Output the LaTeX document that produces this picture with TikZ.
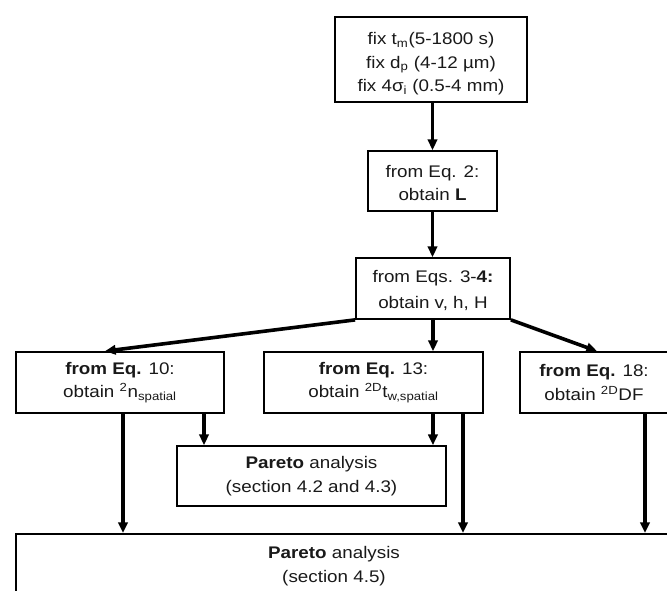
\documentclass[tikz,border=0pt]{standalone}
\usepackage{fontspec}
\setmainfont{Liberation Sans}[FakeStretch=1.12]
\usetikzlibrary{arrows.meta,calc}
\newcommand\boxfont{\fontsize{12.6}{17.6}\selectfont}
\begin{document}
\begin{tikzpicture}[x=0.75pt,y=-0.75pt,
  box/.style={draw, line width=1.3pt, inner sep=0pt, align=center, font=\boxfont, text=black!90},
  lbl/.style={inner sep=0pt, align=center, font=\boxfont, text=black!90},
  arr/.style={line width=2.7pt, -{Triangle[length=8pt,width=7pt]}},
]
\useasboundingbox (0,0) rectangle (667,590);

\node[box, minimum width=144pt, minimum height=63.75pt] (top) at (431,59.5)
  {\rule{0pt}{15.5pt}fix t\textsubscript{m}(5-1800 s)\\fix d\textsubscript{p} (4-12 µm)\\fix 4σ\textsubscript{i} (0.5-4 mm)};
\node[box, minimum width=96.75pt, minimum height=45pt] (b2) at (432.5,181)
  {\rule{0pt}{12pt}from Eq. 2:\\obtain \textbf{L}};
\node[box, minimum width=115.5pt, minimum height=45.75pt] (b3) at (433,288.5)
  {\rule{0pt}{12pt}from Eqs. 3-\textbf{4:}\\[1.5pt]obtain v, h, H};
\node[box, minimum width=156pt, minimum height=45.75pt] (e10) at (120,382.5)
  {\textbf{from Eq.} 10:\\obtain \textsuperscript{2}n\textsubscript{spatial}};
\node[box, minimum width=164.25pt, minimum height=45.75pt] (e13) at (373.5,382.5)
  {\textbf{from Eq.} 13:\\obtain \textsuperscript{2D}t\textsubscript{w,spatial}};
\node[box, minimum width=111pt, minimum height=45.75pt] (e18) at (594,382.5)
  {\textbf{from Eq.} 18:\\obtain \textsuperscript{2D}DF};
\node[box, minimum width=201.75pt, minimum height=45pt] (p1) at (311.5,476)
  {\textbf{Pareto} analysis\\(section 4.2 and 4.3)};
\node[box, anchor=north west, minimum width=528pt, minimum height=80pt] (bot) at (15,533) {};
\node[lbl] (botlabel) at (334,566) {\textbf{Pareto} analysis\\(section 4.5)};

\draw[arr] (top.south -| b2.north) -- (b2.north);
\draw[arr] (b2.south) -- (b2.south |- b3.north);
\draw[arr] (b3.south) -- (b3.south |- e13.north);
\draw[arr] (b3.south west) -- ([xshift=-11.25pt]e10.north);
\draw[arr] (b3.south east) -- ([xshift=2.25pt]e18.north);

\coordinate (a1) at ([xshift=2.25pt]e10.south);
\coordinate (a2) at ([xshift=63pt]e10.south);
\coordinate (a3) at ([xshift=44.6pt]e13.south);
\coordinate (a4) at ([xshift=67.1pt]e13.south);
\coordinate (a5) at ([xshift=38.25pt]e18.south);
\draw[arr] (a1) -- (a1 |- bot.north);
\draw[arr] (a2) -- (a2 |- p1.north);
\draw[arr] (a3) -- (a3 |- p1.north);
\draw[arr] (a4) -- (a4 |- bot.north);
\draw[arr] (a5) -- (a5 |- bot.north);
\end{tikzpicture}
\end{document}
